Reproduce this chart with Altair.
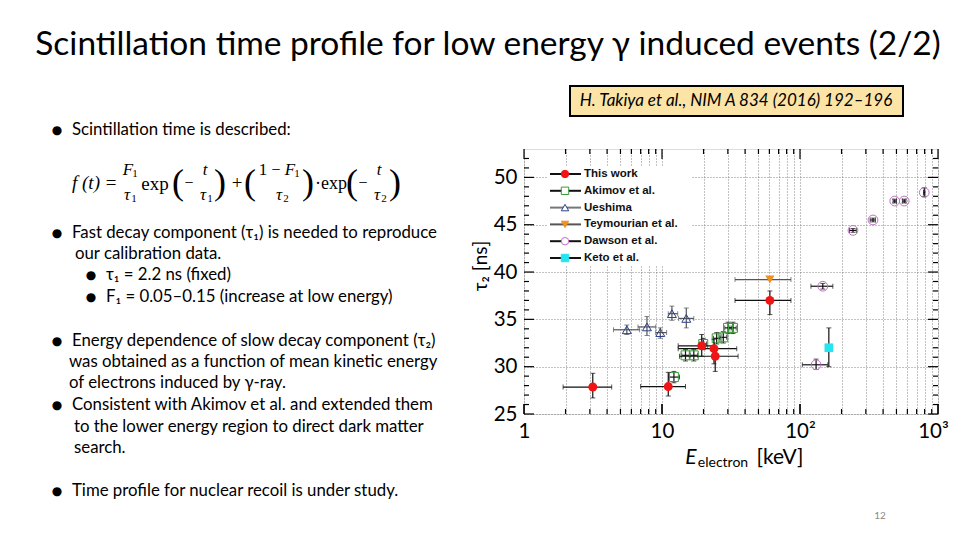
import altair as alt
import pandas as pd

OX, OY = 524, 149   # page position of plot area's top-left corner
W, H = 414, 265

# ---------------- data ----------------
# This work
tw_x = [3.15, 11.1, 19.4, 23.8, 24.3, 60.5]
tw_y = [27.85, 27.9, 32.2, 31.9, 31.1, 37.0]
tw_xlo = [1.92, 7.0, 13.1, 13.1, 13.4, 33.8]
tw_xhi = [4.32, 14.8, 24.0, 34.8, 35.6, 86.0]
tw_ylo = [26.7, 26.9, 31.1, 30.3, 29.5, 35.5]
tw_yhi = [29.3, 29.4, 33.4, 32.9, 32.0, 38.0]
# Akimov et al.
ak_x = [12.2, 14.8, 17.0, 19.9, 24.9, 27.8, 30.1, 32.7]
ak_y = [28.9, 31.2, 31.2, 32.4, 33.0, 33.1, 34.1, 34.1]
ak_xlo = [11.2, 13.9, 16.0, 18.8, 23.6, 26.3, 28.5, 31.0]
ak_xhi = [13.4, 15.8, 18.1, 21.0, 26.3, 29.4, 31.8, 34.5]
ak_ylo = [28.3, 30.6, 30.6, 31.8, 32.4, 32.5, 33.5, 33.5]
ak_yhi = [29.5, 31.8, 31.8, 33.0, 33.6, 33.7, 34.7, 34.7]
# Ueshima
ue_x = [5.56, 7.78, 9.72, 11.8, 15.0]
ue_y = [33.9, 34.2, 33.6, 35.6, 35.1]
ue_xlo = [4.45, 6.7, 9.0, 11.1, 13.2]
ue_xhi = [6.88, 9.0, 10.8, 13.0, 17.0]
ue_ylo = [33.4, 33.3, 33.0, 34.9, 34.1]
ue_yhi = [34.4, 35.3, 34.1, 36.4, 36.2]
# Teymourian et al.
te_x = [60.5]
te_y = [39.2]
te_xlo = [33.8]
te_xhi = [86.0]
te_ylo = [39.2]
te_yhi = [39.2]
# Dawson et al.
da_x = [130.8, 146.3, 242.0, 338.0, 486.0, 569.0, 795.0]
da_y = [30.2, 38.5, 44.4, 45.5, 47.5, 47.5, 48.4]
da_xlo = [104.0, 120.0, 228.0, 322.0, 472.0, 552.0, 785.0]
da_xhi = [159.0, 173.0, 256.0, 352.0, 500.0, 586.0, 805.0]
da_ylo = [29.7, 38.2, 44.2, 45.3, 47.3, 47.3, 48.0]
da_yhi = [30.8, 38.8, 44.6, 45.7, 47.7, 47.7, 48.9]
# Keto et al.
ke_x = [161.8]
ke_y = [32.0]
ke_xlo = [161.8]
ke_xhi = [161.8]
ke_ylo = [30.0]
ke_yhi = [34.1]

legend_labels = ["This work", "Akimov et al.", "Ueshima", "Teymourian et al.", "Dawson et al.", "Keto et al."]

# axis tick positions / labels
x_grid_vals = [1, 2, 3, 4, 5, 6, 7, 8, 9, 10, 20, 30, 40, 50, 60, 70, 80, 90,
               100, 200, 300, 400, 500, 600, 700, 800, 900, 1000]
x_major = [1, 10, 100, 1000]
x_minor = [2, 3, 4, 5, 6, 7, 8, 9, 20, 30, 40, 50, 60, 70, 80, 90,
           200, 300, 400, 500, 600, 700, 800, 900]
y_major = [25, 30, 35, 40, 45, 50]
y_minor = [26, 27, 28, 29, 31, 32, 33, 34, 36, 37, 38, 39, 41, 42, 43, 44,
           46, 47, 48, 49, 51, 52]

# ---------------- styles ----------------
FONT = "Lato"
xs = alt.Scale(type="log", domain=[1, 1000], nice=False)
ys = alt.Scale(domain=[25, 53], nice=False, zero=False)
lab_expr = ("datum.value == 1 ? '1' : datum.value == 10 ? '10' : "
            "datum.value == 100 ? '10²' : datum.value == 1000 ? '10³' : ''")
common_axis = dict(title=None, grid=True, ticks=False, domain=False, labelOverlap=False,
                   labelFontSize=20.5, labelFont=FONT, labelColor="black",
                   gridDash=[1, 2], gridColor="#666", gridWidth=0.8, labelFlush=False)
xaxis = alt.Axis(values=x_grid_vals, labelExpr=lab_expr, labelPadding=7,
                 labelOffset={"condition": {"test": "datum.value >= 1000", "value": -5}, "value": 0},
                 **common_axis)
yaxis = alt.Axis(values=y_major, labelPadding=7, **common_axis)


def X(f):
    return alt.X(f, type="quantitative", scale=xs, axis=xaxis)


def Y(f):
    return alt.Y(f, type="quantitative", scale=ys, axis=yaxis)


one = pd.DataFrame({"k": [0]})


def txt(s, x, y, size, font=FONT, align="left", style="normal", weight="normal",
        color="black", angle=0):
    return alt.Chart(one).mark_text(
        text=s, fontSize=size, font=font, align=align, baseline="middle",
        fontStyle=style, fontWeight=weight, color=color, angle=angle
    ).encode(x=alt.value(x - OX), y=alt.value(y - OY))


def series(xv, yv, xlo, xhi, ylo, yhi, bar_color, mark_kw):
    df = pd.DataFrame(dict(x=xv, y=yv, xlo=xlo, xhi=xhi, ylo=ylo, yhi=yhi))
    base = alt.Chart(df)
    hb = base.mark_rule(color=bar_color, strokeWidth=1.2).encode(x=X("xlo"), x2="xhi", y=Y("y"))
    vb = base.mark_rule(color=bar_color, strokeWidth=1.2).encode(x=X("x"), y=Y("ylo"), y2="yhi")
    hc = base.transform_fold(["xlo", "xhi"], as_=["k", "v"]).mark_tick(
        orient="vertical", size=5, thickness=1, color=bar_color).encode(x=X("v"), y=Y("y"))
    vc = base.transform_fold(["ylo", "yhi"], as_=["k", "v"]).mark_tick(
        orient="horizontal", size=5, thickness=1, color=bar_color).encode(x=X("x"), y=Y("v"))
    pt = base.mark_point(**mark_kw).encode(x=X("x"), y=Y("y"))
    return [hb, vb, hc, vc, pt]


layers = []


def tick_layer(vals, axis_is_x, side, length):
    df = pd.DataFrame({"v": vals})
    m = alt.Chart(df).mark_rule(color="black", strokeWidth=1.2)
    if axis_is_x:
        if side == "bottom":
            return m.encode(x=X("v"), y=alt.value(H), y2=alt.value(H - length))
        return m.encode(x=X("v"), y=alt.value(0), y2=alt.value(length))
    if side == "left":
        return m.encode(y=Y("v"), x=alt.value(0), x2=alt.value(length))
    return m.encode(y=Y("v"), x=alt.value(W - length), x2=alt.value(W))


# legend white background (covers grid)
legend_bg = alt.Chart(one).mark_rect(fill="white").encode(
    x=alt.value(547 - OX), x2=alt.value(692 - OX), y=alt.value(166 - OY), y2=alt.value(266 - OY))

layers.append(tick_layer(x_major, True, "bottom", 10))
layers.append(legend_bg)

layers += series(ue_x, ue_y, ue_xlo, ue_xhi, ue_ylo, ue_yhi, "#555555",
                 dict(shape="triangle-up", size=80, filled=False, color="#2B3F8C", strokeWidth=1, opacity=1))
layers += series(ak_x, ak_y, ak_xlo, ak_xhi, ak_ylo, ak_yhi, "#111111",
                 dict(shape="square", size=80, filled=False, color="#3C9A3C", strokeWidth=1, opacity=1))
layers += series(te_x, te_y, te_xlo, te_xhi, te_ylo, te_yhi, "#555555",
                 dict(shape="triangle-down", size=85, filled=True, color="#F0901E", opacity=1))
layers += series(da_x, da_y, da_xlo, da_xhi, da_ylo, da_yhi, "#111111",
                 dict(shape="circle", size=95, filled=False, color="#C070C8", strokeWidth=1, opacity=1))
layers += series(ke_x, ke_y, ke_xlo, ke_xhi, ke_ylo, ke_yhi, "#111111",
                 dict(shape="square", size=75, filled=True, color="#22E5F0", opacity=1))
layers += series(tw_x, tw_y, tw_xlo, tw_xhi, tw_ylo, tw_yhi, "#111111",
                 dict(shape="circle", size=80, filled=True, color="#F01414", opacity=1))

for side in ["bottom", "top"]:
    layers.append(tick_layer(x_major, True, side, 10))
    layers.append(tick_layer(x_minor, True, side, 5))
for side in ["left", "right"]:
    layers.append(tick_layer(y_major, False, side, 10))
    layers.append(tick_layer(y_minor, False, side, 5))

# legend entries
leg_df = pd.DataFrame({"lab": legend_labels, "i": list(range(len(legend_labels)))})
leg_base = alt.Chart(leg_df).transform_calculate(ly=f"{174 - OY} + datum.i * 16.8")
LY = alt.Y("ly:Q", scale=None)
line_cols = ["#111111", "#111111", "#777777", "#555555", "#111111", "#111111"]
mk_shapes = ["circle", "square", "triangle-up", "triangle-down", "circle", "square"]
mk_fill = ["#F01414", "white", "white", "#F0901E", "white", "#22E5F0"]
mk_stroke = ["#F01414", "#3C9A3C", "#2B3F8C", "#F0901E", "#C070C8", "#22E5F0"]
layers.append(leg_base.mark_rule(strokeWidth=2).encode(
    x=alt.value(550 - OX), x2=alt.value(581 - OX), y=LY,
    color=alt.Color("lab:N", scale=alt.Scale(domain=legend_labels, range=line_cols), legend=None)))
layers.append(leg_base.mark_point(size=55, strokeWidth=1, opacity=1).encode(
    x=alt.value(565 - OX), y=LY,
    shape=alt.Shape("lab:N", scale=alt.Scale(domain=legend_labels, range=mk_shapes), legend=None),
    fill=alt.Fill("lab:N", scale=alt.Scale(domain=legend_labels, range=mk_fill), legend=None),
    stroke=alt.Stroke("lab:N", scale=alt.Scale(domain=legend_labels, range=mk_stroke), legend=None)))
layers.append(leg_base.mark_text(align="left", baseline="middle", font="Liberation Sans",
                                 fontWeight="bold", fontSize=11.5, color="#111").encode(
    x=alt.value(584 - OX), y=LY, text="lab:N"))

# axis titles
layers.append(txt("τ₂ [ns]", 481, 266, 19, align="center", angle=270))
layers.append(txt("E", 691, 458, 21, align="center", style="italic"))
layers.append(txt("electron", 723, 463, 14, align="center"))
layers.append(txt("[keV]", 780, 458, 21, align="center"))

# slide title and citation
layers.append(txt("Scintillation time profile for low energy γ induced events (2/2)", 488, 45, 33.5, align="center"))
layers.append(alt.Chart(one).mark_rect(fill="#FCE3A6", stroke="black", strokeWidth=2).encode(
    x=alt.value(570 - OX), x2=alt.value(903 - OX), y=alt.value(86 - OY), y2=alt.value(116 - OY)))
layers.append(txt("H. Takiya et al., NIM A 834 (2016) 192–196", 736, 101, 17, align="center", style="italic"))

# bullets
bul = [(57, 130), (57, 233), (91, 275), (91, 297), (57, 341), (57, 405), (57, 491)]
for bx, by in bul:
    layers.append(txt("●", bx, by, 12, align="center", font="DejaVu Sans"))

BS = 16.8
lines = [
    ("Scintillation time is described:", 72, 130),
    ("Fast decay component (τ₁) is needed to reproduce", 72, 233),
    ("our calibration data.", 75, 254),
    ("τ₁ = 2.2 ns (fixed)", 106, 275),
    ("F₁ = 0.05–0.15 (increase at low energy)", 106, 297),
    ("Energy dependence of slow decay component (τ₂)", 72, 341),
    ("was obtained as a function of mean kinetic energy", 69, 362),
    ("of electrons induced by γ-ray.", 69, 383),
    ("Consistent with Akimov et al. and extended them", 72, 405),
    ("to the lower energy region to direct dark matter", 74, 427),
    ("search.", 74, 448),
    ("Time profile for nuclear recoil is under study.", 72, 491),
]
for s, x, y in lines:
    layers.append(txt(s, x, y, BS))

# formula  f(t) = F1/τ1 exp(-t/τ1) + ((1-F1)/τ2)·exp(-t/τ2)
SF = "Liberation Serif"
fparts = [
    ("f (t)", 72, 183, 19, "left", "italic"),
    ("=", 111, 183, 19, "center", "normal"),
    ("F", 128, 170, 17, "center", "italic"),
    ("1", 135, 174, 11, "center", "normal"),
    ("τ", 127, 195, 17, "center", "italic"),
    ("1", 134, 199, 11, "center", "normal"),
    ("exp", 155, 184, 19, "center", "normal"),
    ("(", 178, 183, 36, "center", "normal"),
    ("−", 189, 183, 16, "center", "normal"),
    ("t", 205, 170, 17, "center", "italic"),
    ("τ", 203, 195, 17, "center", "italic"),
    ("1", 210, 199, 11, "center", "normal"),
    (")", 220, 183, 36, "center", "normal"),
    ("+", 237, 183, 19, "center", "normal"),
    ("(", 250, 183, 36, "center", "normal"),
    ("1", 263, 170, 17, "center", "normal"),
    ("−", 276, 170, 16, "center", "normal"),
    ("F", 290, 170, 17, "center", "italic"),
    ("1", 297, 174, 11, "center", "normal"),
    ("τ", 279, 195, 17, "center", "italic"),
    ("2", 286, 199, 11, "center", "normal"),
    (")", 308, 183, 36, "center", "normal"),
    ("·exp", 331, 184, 18, "center", "normal"),
    ("(", 352, 183, 36, "center", "normal"),
    ("−", 363, 183, 16, "center", "normal"),
    ("t", 379, 170, 17, "center", "italic"),
    ("τ", 377, 195, 17, "center", "italic"),
    ("2", 384, 199, 11, "center", "normal"),
    (")", 395, 183, 36, "center", "normal"),
]
for s, x, y, sz, al, st in fparts:
    layers.append(txt(s, x, y, sz, font=SF, align=al, style=st))

# page number
layers.append(txt("12", 880, 516, 10, align="center", color="#888888"))

chart = alt.layer(*layers).properties(
    width=W, height=H,
    autosize=alt.AutoSizeParams(type="none"),
    padding={"left": OX - 8, "top": OY - 8, "right": 14, "bottom": 540 - 16 - (OY - 8) - H - 2},
).configure_view(stroke="black", strokeWidth=1.8).configure(background="white")

chart.save("out.html", embed_options={"renderer": "svg", "actions": False})
